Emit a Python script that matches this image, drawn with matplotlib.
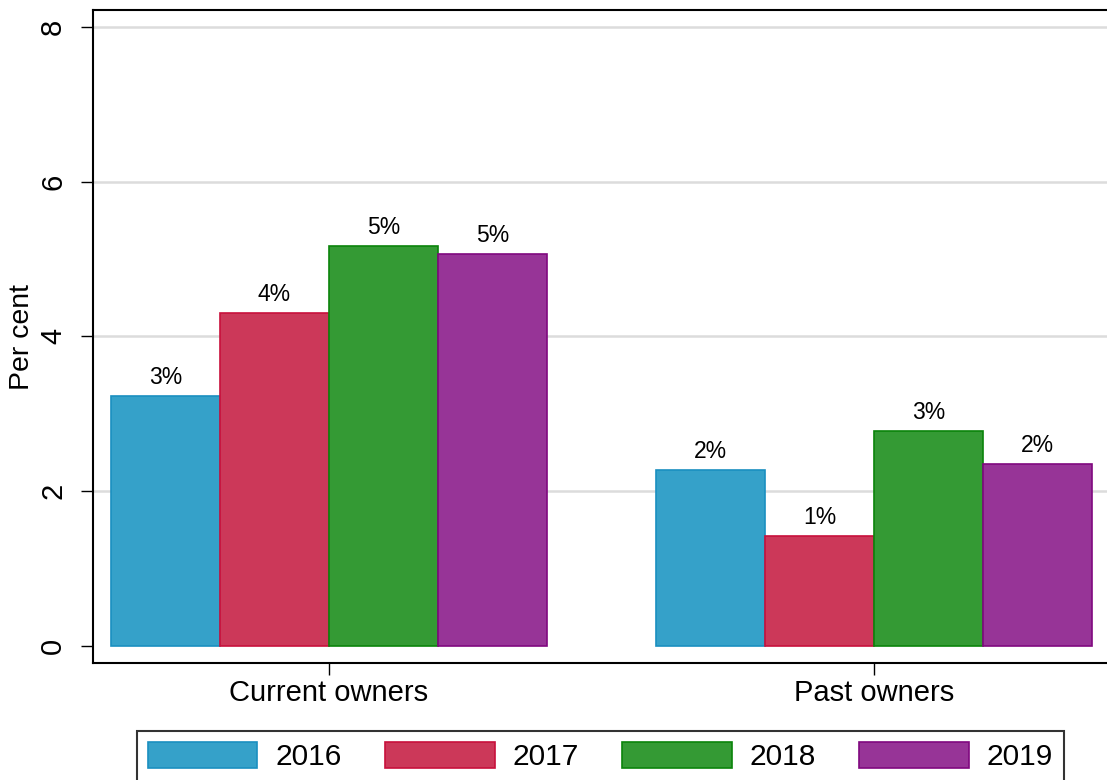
import matplotlib
matplotlib.use("Agg")
import matplotlib.pyplot as plt
import numpy as np

plt.rcParams['font.family'] = ['Liberation Sans', 'DejaVu Sans']

categories = ["Current owners", "Past owners"]
years = ["2016", "2017", "2018", "2019"]
values = {
    "2016": [3.23, 2.27],
    "2017": [4.30, 1.42],
    "2018": [5.17, 2.78],
    "2019": [5.07, 2.35],
}
fills = ["#35a1c9", "#cc3859", "#349a34", "#973497"]
edges = ["#1a8fc0", "#c8103c", "#0a840a", "#80087f"]
yticks = [0, 2, 4, 6, 8]

W, H = 1107, 780
fig = plt.figure(figsize=(W / 100, H / 100), dpi=100)
ax = fig.add_axes([93 / W, 1 - 663.3 / H, 1 - 93 / W, (663.3 - 10) / H])

x = np.arange(len(categories))
bw = 0.2
offsets = [-0.3, -0.1, 0.1, 0.3]
for i, yr in enumerate(years):
    bars = ax.bar(x + offsets[i], values[yr], width=bw, color=fills[i],
                  edgecolor=edges[i], linewidth=1.2, label=yr, zorder=3)
    ax.bar_label(bars, labels=[f"{v:.0f}%" for v in values[yr]],
                 padding=5, fontsize=16.5)

ax.set_xlim(-0.433, 1.4275)
ax.set_ylim(-0.228, 8.22)
ax.set_yticks(yticks)
ax.set_yticklabels([str(t) for t in yticks], rotation=90, va='center')
ax.set_xticks(x)
ax.set_xticklabels(categories)
ax.tick_params(axis='both', labelsize=21, length=8.6, width=1.0, color='black')
ax.tick_params(axis='y', pad=10)
ax.tick_params(axis='x', pad=3)
ax.hlines(yticks[1:], ax.get_xlim()[0], ax.get_xlim()[1], colors='#dcdcdc',
          linewidth=1.8, zorder=1)
ax.set_ylabel("Per cent", fontsize=20.5, labelpad=3)

for s in ['left', 'top', 'bottom']:
    ax.spines[s].set_linewidth(1.5)
ax.spines['right'].set_visible(False)

leg = fig.legend(loc='upper left', bbox_to_anchor=(136.5 / W, 1 - 731 / H),
                 bbox_transform=fig.transFigure, ncol=4, fontsize=21.5,
                 frameon=True, fancybox=False, edgecolor='black',
                 handlelength=3.68, handleheight=0.97, handletextpad=0.6,
                 columnspacing=1.44, borderpad=0.37, borderaxespad=0)
leg.get_frame().set_linewidth(1.5)

fig.savefig("out.png", dpi=100)
